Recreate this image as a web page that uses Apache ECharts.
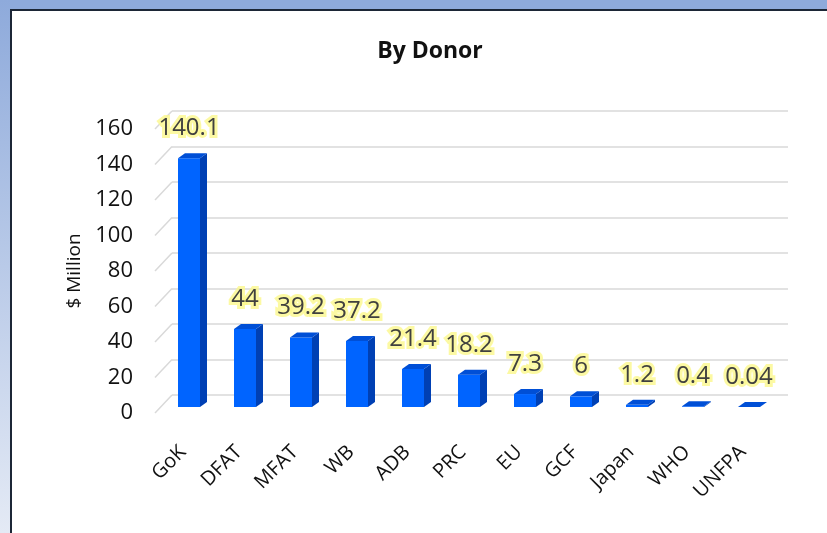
<!DOCTYPE html>
<html>
<head>
<meta charset="utf-8">
<script src="https://cdn.jsdelivr.net/npm/echarts@6/dist/echarts.min.js"></script>
<style>html,body{margin:0;padding:0;background:#fff;}#c{width:827px;height:533px;}</style>
</head>
<body>
<div id="c"></div>
<script>
const categories = ['GoK','DFAT','MFAT','WB','ADB','PRC','EU','GCF','Japan','WHO','UNFPA'];
const values = [140.1, 44, 39.2, 37.2, 21.4, 18.2, 7.3, 6, 1.2, 0.4, 0.04];
const yTicks = [0, 20, 40, 60, 80, 100, 120, 140, 160];

const FONT = "'Open Sans', 'Noto Sans', sans-serif";
const DEPTH_X = 17, DEPTH_Y = 18;

const chart = echarts.init(document.getElementById('c'), null, {renderer: 'canvas'});

const option = {
  backgroundColor: '#ffffff',
  animation: false,
  title: {
    text: 'By Donor', left: 425, top: 35, textAlign: 'center',
    textStyle: {fontFamily: FONT, fontSize: 23, fontWeight: 'bold', color: '#111'}
  },
  graphic: [
    {type: 'rect', left: 0, top: 0, shape: {width: 827, height: 9}, style: {fill: '#8eaadb'}, z: 10},
    {type: 'rect', left: 0, top: 0, shape: {width: 10, height: 533},
      style: {fill: new echarts.graphic.LinearGradient(0, 0, 0, 1, [{offset: 0, color: '#8eaadb'}, {offset: 1, color: '#e4eaf5'}])}, z: 10},
    {type: 'rect', left: 10, top: 9, shape: {width: 817, height: 2}, style: {fill: '#1c2636'}, z: 11},
    {type: 'rect', left: 10, top: 9, shape: {width: 2, height: 524}, style: {fill: '#1c2636'}, z: 11}
  ],
  grid: [
    {left: 155, right: 56, top: 129, bottom: 120},
    {left: 172, right: 39, top: 111, bottom: 138}
  ],
  xAxis: [
    {type: 'category', data: categories, gridIndex: 0,
      axisLine: {show: false}, axisTick: {show: false},
      axisLabel: {rotate: 45, margin: 36, fontFamily: FONT, fontSize: 20, color: '#111', interval: 0}},
    {type: 'category', data: categories, gridIndex: 1, show: false}
  ],
  yAxis: [
    {type: 'value', gridIndex: 0, min: 0, max: 160, interval: 20,
      name: '$ Million', nameLocation: 'middle', nameGap: 66, nameRotate: 90,
      nameTextStyle: {fontFamily: FONT, fontSize: 19, color: '#111'},
      axisLine: {show: false}, axisTick: {show: false}, splitLine: {show: false},
      axisLabel: {fontFamily: FONT, fontSize: 22, color: '#111', margin: 22}},
    {type: 'value', gridIndex: 1, min: 0, max: 160, interval: 20,
      axisLine: {show: false}, axisTick: {show: false}, axisLabel: {show: false},
      splitLine: {show: true, lineStyle: {color: '#d9d9d9', width: 1.5}}}
  ],
  series: [
    {
      type: 'custom', xAxisIndex: 0, yAxisIndex: 0, silent: true,
      data: yTicks.map(v => [0, v]),
      renderItem: function (params, api) {
        const y = api.coord([0, api.value(1)])[1];
        const x = params.coordSys.x;
        return {type: 'line', shape: {x1: x, y1: y, x2: x + DEPTH_X, y2: y - DEPTH_Y},
          style: {stroke: '#d9d9d9', lineWidth: 1.5}};
      }
    },
    {
      type: 'custom', xAxisIndex: 0, yAxisIndex: 0, silent: true, z: 5,
      data: values.map((v, i) => [i, v]),
      renderItem: function (params, api) {
        const i = api.value(0), v = api.value(1);
        const p = api.coord([i, v]);
        const p0 = api.coord([i, 0]);
        const cx = p[0] + 6;
        const yt = p[1] - 6, yb = p0[1] - 6;
        const hw = 11, dx = 7, dy = 5;
        const x0 = cx - hw, x1 = cx + hw;
        const label = String(values[params.dataIndex]);
        const ly = yt - 30;
        return {
          type: 'group',
          children: [
            {type: 'polygon', shape: {points: [[x1, yt], [x1 + dx, yt - dy], [x1 + dx, yb - dy], [x1, yb]]},
              style: {fill: '#0040b4'}},
            {type: 'rect', shape: {x: x0, y: yt, width: hw * 2, height: Math.max(0, yb - yt)},
              style: {fill: '#0064ff'}},
            {type: 'polygon', shape: {points: [[x0, yt], [x1, yt], [x1 + dx, yt - dy], [x0 + dx, yt - dy]]},
              style: {fill: '#004fd6'}},
            {type: 'text', style: {text: label, x: cx, y: ly, align: 'center', verticalAlign: 'middle',
              fontFamily: FONT, fontSize: 24, fill: '#fbf78c',
              stroke: '#fbf78c', lineWidth: 6, opacity: 0.8,
              shadowColor: 'rgba(255,250,90,1)', shadowBlur: 12}},
            {type: 'text', style: {text: label, x: cx, y: ly, align: 'center', verticalAlign: 'middle',
              fontFamily: FONT, fontSize: 24, fill: '#404040'}}
          ]
        };
      }
    }
  ]
};
chart.setOption(option);
</script>
</body>
</html>
